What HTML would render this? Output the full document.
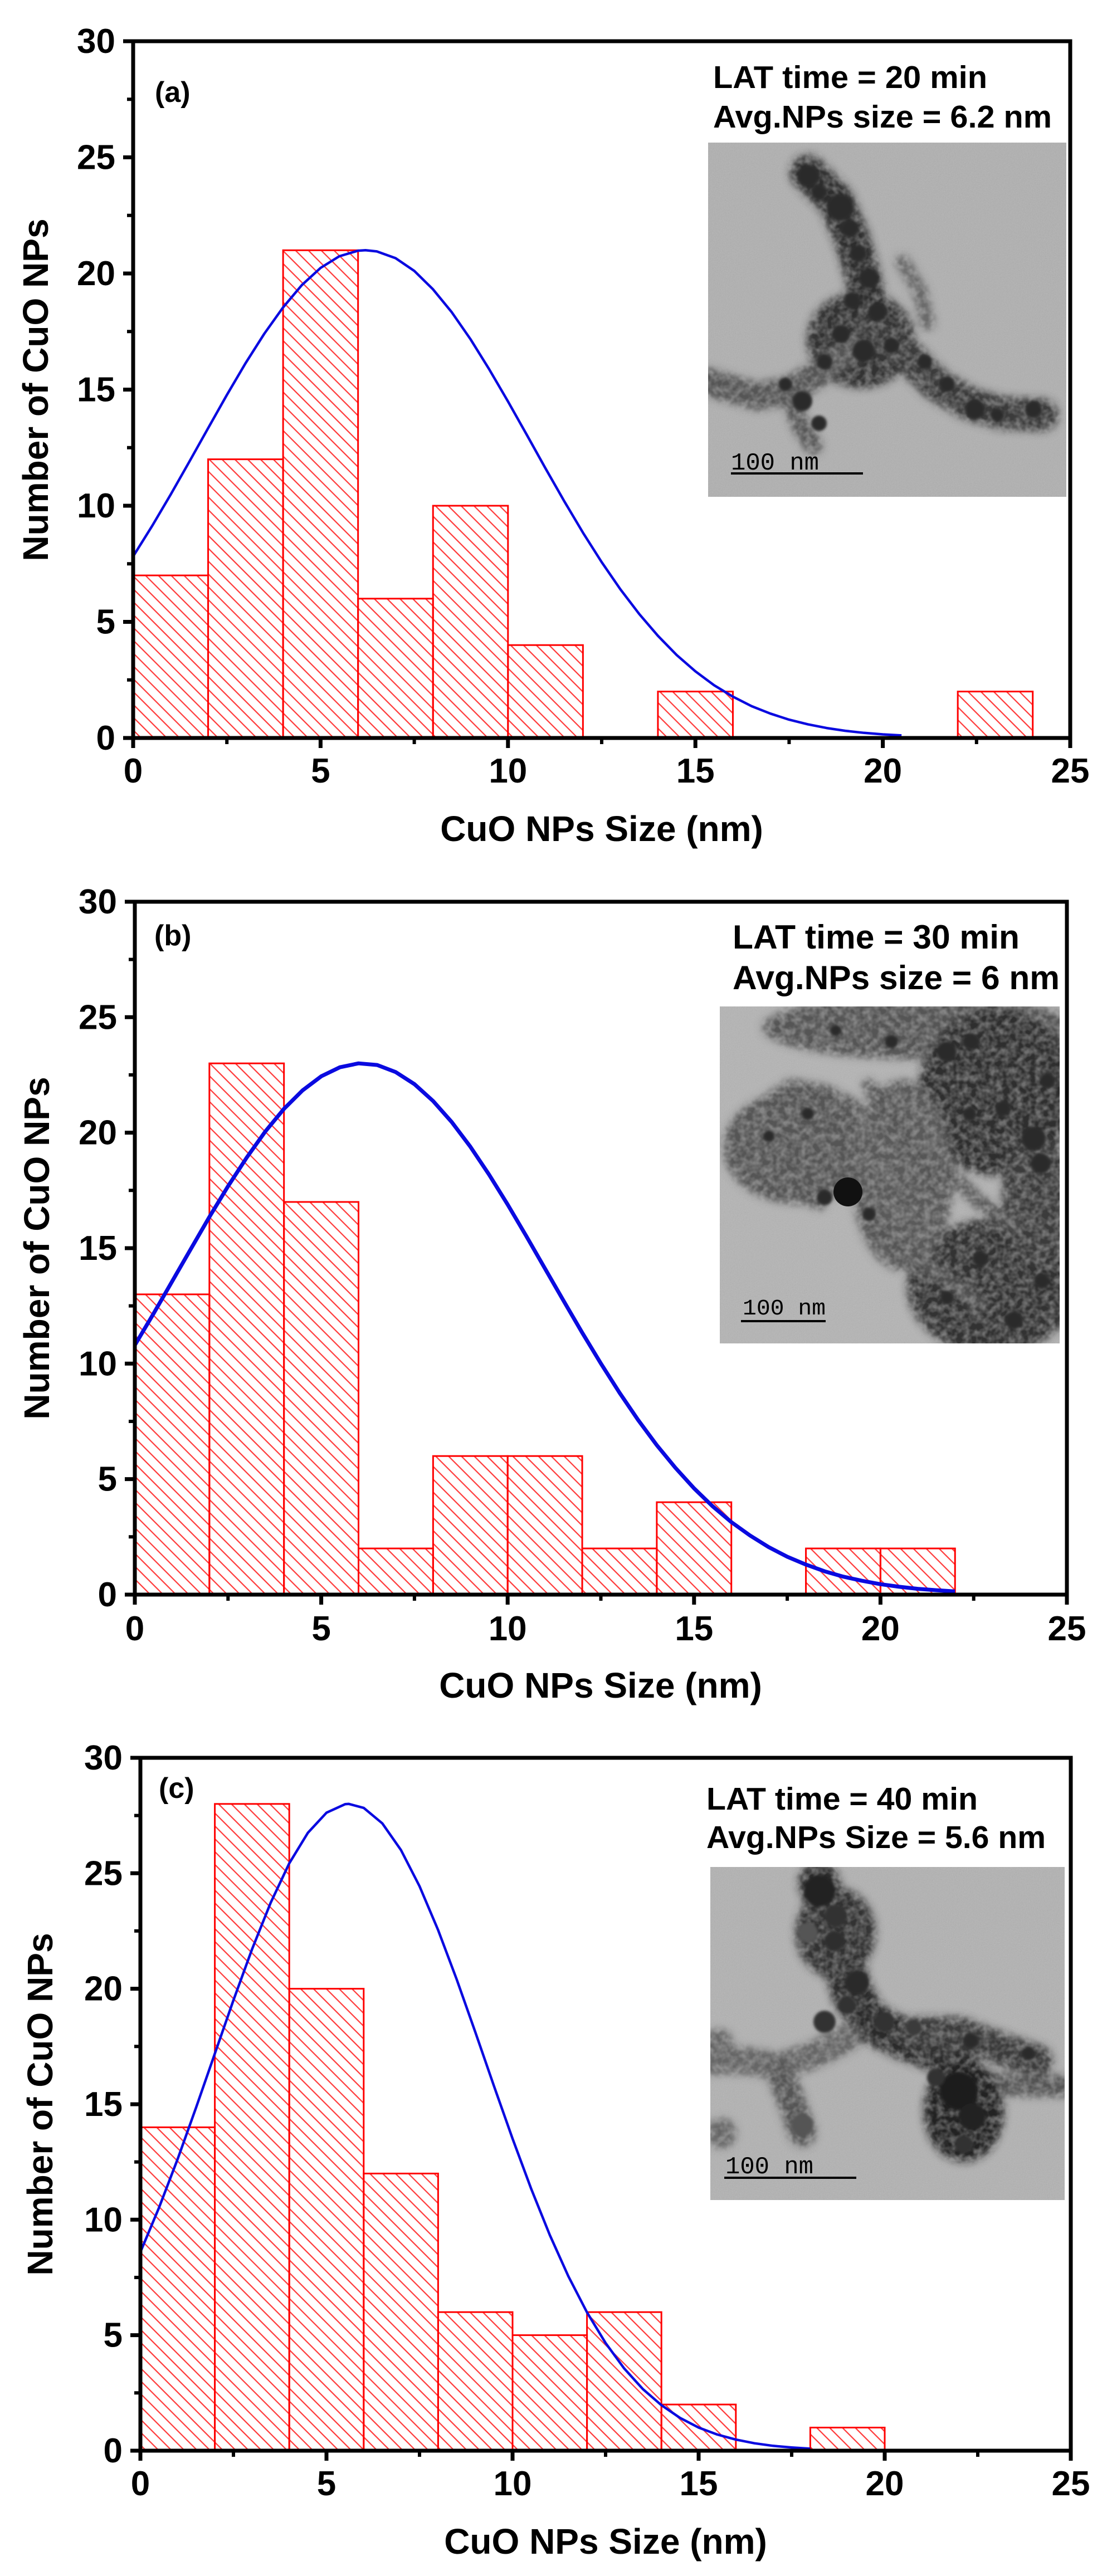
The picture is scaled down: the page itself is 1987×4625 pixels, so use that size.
<!DOCTYPE html>
<html>
<head>
<meta charset="utf-8">
<style>
html,body{margin:0;padding:0;background:#fff;}
svg{display:block;}
text{font-family:"Liberation Sans",Arial,sans-serif;}
.b{font-weight:bold;}
</style>
</head>
<body>
<svg width="1987" height="4625" viewBox="0 0 1987 4625" xmlns="http://www.w3.org/2000/svg">
<defs>
  <pattern id="h" patternUnits="userSpaceOnUse" width="16.3" height="16.3" patternTransform="rotate(45)">
    <line x1="-1" y1="8" x2="17.3" y2="8" stroke="#ff3a3a" stroke-width="2.2"/>
  </pattern>
  <filter id="bl2" x="-20%" y="-20%" width="140%" height="140%"><feGaussianBlur stdDeviation="2.5"/></filter>
  <filter id="bl8" x="-20%" y="-20%" width="140%" height="140%"><feGaussianBlur stdDeviation="9"/></filter>
  <filter id="tex" x="-10%" y="-10%" width="120%" height="120%">
    <feGaussianBlur in="SourceGraphic" stdDeviation="7" result="b"/>
    <feTurbulence type="fractalNoise" baseFrequency="0.085" numOctaves="2" seed="11" result="n"/>
    <feColorMatrix in="n" type="matrix" values="0 0 0 0 0  0 0 0 0 0  0 0 0 0 0  2.2 0 0 0 -0.5" result="m"/>
    <feComposite in="b" in2="m" operator="in"/>
  </filter>
  <filter id="nz" x="0" y="0" width="100%" height="100%">
    <feTurbulence type="fractalNoise" baseFrequency="0.55" numOctaves="2" seed="7"/>
    <feColorMatrix type="saturate" values="0"/>
  </filter>
  <clipPath id="ca"><rect x="1271" y="256" width="643" height="636"/></clipPath>
  <clipPath id="cb"><rect x="1292" y="1807" width="610" height="605"/></clipPath>
  <clipPath id="cc"><rect x="1275" y="3352" width="636" height="598"/></clipPath>

  <g id="aggA">
    <ellipse cx="1545" cy="610" rx="95" ry="85" fill="#333"/>
    <path d="M1450,310 L1500,360 L1530,430 L1550,500 L1560,560 L1540,620" fill="none" stroke="#2e2e2e" stroke-width="60" stroke-linecap="round"/>
    <path d="M1540,620 L1470,670 L1420,700 L1360,712 L1300,695 L1271,685" fill="none" stroke="#555" stroke-width="45" stroke-linecap="round"/>
    <path d="M1560,590 L1620,630 L1680,690 L1740,725 L1800,742 L1870,745" fill="none" stroke="#3a3a3a" stroke-width="55" stroke-linecap="round"/>
    <path d="M1620,470 L1650,520 L1665,580" fill="none" stroke="#666" stroke-width="22" stroke-linecap="round"/>
    <path d="M1420,720 L1440,770 L1460,800" fill="none" stroke="#555" stroke-width="28" stroke-linecap="round"/>
  </g>
  <g id="aggB">
    <ellipse cx="1650" cy="1845" rx="280" ry="55" fill="#555"/>
    <ellipse cx="1790" cy="1960" rx="140" ry="150" fill="#2e2e2e"/>
    <ellipse cx="1780" cy="2310" rx="150" ry="120" fill="#333"/>
    <ellipse cx="1430" cy="2060" rx="130" ry="100" fill="#555"/>
    <ellipse cx="1620" cy="2110" rx="90" ry="170" fill="#5a5a5a"/>
    <ellipse cx="1860" cy="2150" rx="60" ry="120" fill="#3a3a3a"/>
    <path d="M1360,1990 L1420,1950 L1480,1960 L1540,1990 M1330,2080 L1400,2120 L1470,2160 M1560,1950 L1600,2010 L1640,2060 L1680,2130 M1650,2260 L1700,2300 L1760,2340 M1560,2200 L1620,2240 L1660,2280 M1700,2100 L1760,2160 L1820,2200" fill="none" stroke="#555" stroke-width="22" stroke-linecap="round"/>
  </g>
  <g id="aggC">
    <path d="M1470,3380 L1490,3440 L1510,3510 L1530,3580 L1560,3630 L1620,3660 L1700,3690 L1740,3740 L1730,3840" fill="none" stroke="#2a2a2a" stroke-width="70" stroke-linecap="round"/>
    <path d="M1640,3650 L1720,3650 L1800,3680 L1860,3700" fill="none" stroke="#3a3a3a" stroke-width="55" stroke-linecap="round"/>
    <path d="M1780,3740 L1840,3745 L1911,3745" fill="none" stroke="#555" stroke-width="35" stroke-linecap="round"/>
    <path d="M1275,3700 L1340,3700 L1400,3710 L1460,3690 L1520,3660" fill="none" stroke="#666" stroke-width="45" stroke-linecap="round"/>
    <path d="M1400,3720 L1420,3770 L1440,3830" fill="none" stroke="#555" stroke-width="45" stroke-linecap="round"/>
    <ellipse cx="1730" cy="3790" rx="70" ry="90" fill="#222"/>
    <ellipse cx="1500" cy="3470" rx="70" ry="80" fill="#333"/>
    <circle cx="1290" cy="3670" r="25" fill="#666"/>
    <circle cx="1295" cy="3830" r="25" fill="#666"/>
  </g>
</defs>

<!-- ================= PANEL (a) ================= -->
<g stroke="#ff0000" stroke-width="3" fill="url(#h)">
  <rect x="239" y="1033.1" width="134.56" height="291.9"/>
  <rect x="373.56" y="824.6" width="134.56" height="500.4"/>
  <rect x="508.12" y="449.3" width="134.56" height="875.7"/>
  <rect x="642.68" y="1074.8" width="134.56" height="250.2"/>
  <rect x="777.24" y="908" width="134.56" height="417"/>
  <rect x="911.8" y="1158.2" width="134.56" height="166.8"/>
  <rect x="1180.92" y="1241.6" width="134.56" height="83.4"/>
  <rect x="1719.16" y="1241.6" width="134.56" height="83.4"/>
</g>
<polyline fill="none" stroke="#0a0ae0" stroke-width="4.5" stroke-linejoin="round" points="239,998.9 272.6,945.1 306.3,888 339.9,828.8 373.6,768.7 407.2,709.1 440.8,652 474.5,599 508.1,551.9 541.8,511.8 575.4,481 609,460.1 642.7,450.1 656.1,449.3 676.3,451.4 710,463.5 743.6,486.4 777.2,519.4 810.9,560.6 844.5,609 878.2,663.2 911.8,720.8 945.4,780.4 979.1,840.9 1012.7,899.7 1046.4,956.4 1080,1009.3 1113.6,1058.1 1147.3,1102.3 1180.9,1141.5 1214.6,1176.1 1248.2,1205.3 1281.8,1230.3 1315.5,1250.8 1349.1,1267.9 1382.8,1281.2 1416.4,1292.1 1450,1300.4 1483.7,1307.1 1517.3,1312.1 1551,1315.8 1584.6,1318.5 1618.2,1320.4"/>

<!-- inset (a) -->
<rect x="1271" y="256" width="643" height="636" fill="#b0b0b0"/>
<rect x="1271" y="256" width="643" height="636" filter="url(#nz)" opacity="0.2"/>
<g clip-path="url(#ca)">
  <use href="#aggA" filter="url(#bl8)" opacity="0.55"/>
  <use href="#aggA" filter="url(#tex)"/>
  <g filter="url(#bl2)" fill="#2a2a2a">
    <circle cx="1451" cy="316" r="20"/><circle cx="1470" cy="345" r="14"/>
    <circle cx="1508" cy="372" r="24"/><circle cx="1525" cy="410" r="16"/>
    <circle cx="1540" cy="455" r="15"/><circle cx="1560" cy="500" r="18"/>
    <circle cx="1530" cy="540" r="15"/><circle cx="1575" cy="560" r="17"/>
    <circle cx="1510" cy="600" r="16"/><circle cx="1550" cy="630" r="20"/>
    <circle cx="1480" cy="650" r="14"/><circle cx="1600" cy="620" r="14"/>
    <circle cx="1440" cy="720" r="18"/><circle cx="1470" cy="760" r="14"/>
    <circle cx="1410" cy="690" r="12"/><circle cx="1700" cy="690" r="14"/>
    <circle cx="1750" cy="735" r="18"/><circle cx="1855" cy="735" r="15"/>
    <circle cx="1660" cy="650" r="13"/><circle cx="1790" cy="745" r="12"/>
  </g>
</g>
<line x1="1312" y1="850" x2="1549" y2="850" stroke="#000" stroke-width="4"/>
<text x="1312" y="843" font-size="44" textLength="158" lengthAdjust="spacingAndGlyphs" fill="#000" style="font-family:'Liberation Mono',monospace">100 nm</text>

<text class="b" x="1280" y="158" font-size="57" textLength="492" lengthAdjust="spacingAndGlyphs">LAT time = 20 min</text>
<text class="b" x="1280" y="229" font-size="57" textLength="608" lengthAdjust="spacingAndGlyphs">Avg.NPs size = 6.2 nm</text>
<text class="b" x="278" y="183" font-size="52">(a)</text>

<rect x="239" y="74" width="1682" height="1251" fill="none" stroke="#000" stroke-width="7"/>
<path stroke="#000" stroke-width="7" fill="none" d="M239,1325V1343 M575.4,1325V1343 M911.8,1325V1343 M1248.2,1325V1343 M1584.6,1325V1343 M1921,1325V1343 M239,1325H221 M239,1116.5H221 M239,908H221 M239,699.5H221 M239,491H221 M239,282.5H221 M239,74H221"/>
<path stroke="#000" stroke-width="6" fill="none" d="M407.2,1325V1336 M743.6,1325V1336 M1080,1325V1336 M1416.4,1325V1336 M1752.8,1325V1336 M239,1220.75H228 M239,1012.25H228 M239,803.75H228 M239,595.25H228 M239,386.75H228 M239,178.25H228"/>
<g class="b" font-size="62" text-anchor="end">
  <text x="207" y="1346">0</text><text x="207" y="1137.5">5</text><text x="207" y="929">10</text>
  <text x="207" y="720.5">15</text><text x="207" y="512">20</text><text x="207" y="303.5">25</text><text x="207" y="95">30</text>
</g>
<g class="b" font-size="62" text-anchor="middle">
  <text x="239" y="1405">0</text><text x="575.4" y="1405">5</text><text x="911.8" y="1405">10</text>
  <text x="1248.2" y="1405">15</text><text x="1584.6" y="1405">20</text><text x="1921" y="1405">25</text>
</g>
<text class="b" x="1080" y="1510" font-size="64" text-anchor="middle">CuO NPs Size (nm)</text>
<text class="b" font-size="64" text-anchor="middle" transform="translate(86,700) rotate(-90)">Number of CuO NPs</text>

<!-- ================= PANEL (b) ================= -->
<g stroke="#ff0000" stroke-width="3" fill="url(#h)">
  <rect x="242" y="2323.9" width="133.84" height="539.1"/>
  <rect x="375.84" y="1909.2" width="133.84" height="953.8"/>
  <rect x="509.68" y="2158" width="133.84" height="705"/>
  <rect x="643.52" y="2780.1" width="133.84" height="82.9"/>
  <rect x="777.36" y="2614.2" width="133.84" height="248.8"/>
  <rect x="911.2" y="2614.2" width="133.84" height="248.8"/>
  <rect x="1045.04" y="2780.1" width="133.84" height="82.9"/>
  <rect x="1178.88" y="2697.1" width="133.84" height="165.9"/>
  <rect x="1446.56" y="2780.1" width="133.84" height="82.9"/>
  <rect x="1580.4" y="2780.1" width="133.84" height="82.9"/>
</g>
<polyline fill="none" stroke="#0a0ae0" stroke-width="7" stroke-linejoin="round" points="242,2415.1 275.5,2358.7 308.9,2300.7 342.4,2242.6 375.8,2185 409.3,2129.8 442.8,2078.4 476.2,2031.5 509.7,1990.9 543.1,1957.7 576.6,1932.4 610.1,1916.2 643.5,1909.2 677,1912.1 710.4,1924.9 743.9,1946.5 777.4,1976.8 810.8,2014.5 844.3,2058.9 877.7,2108.7 911.2,2162.6 944.7,2219.4 978.1,2277.4 1011.6,2335.5 1045,2392.7 1078.5,2447.9 1112,2500.5 1145.4,2549.5 1178.9,2594.7 1212.3,2635.3 1245.8,2672.2 1279.3,2704.6 1312.7,2732.8 1346.2,2756.8 1379.6,2777.6 1413.1,2795 1446.6,2809.1 1480,2821.1 1513.5,2830.7 1546.9,2838.1 1580.4,2844.3 1613.9,2848.9 1647.3,2852.6 1680.8,2855.1 1714.2,2857.2"/>

<!-- inset (b) -->
<rect x="1292" y="1807" width="610" height="605" fill="#b4b4b4"/>
<rect x="1292" y="1807" width="610" height="605" filter="url(#nz)" opacity="0.2"/>
<g clip-path="url(#cb)">
  <use href="#aggB" filter="url(#bl8)" opacity="0.5"/>
  <use href="#aggB" filter="url(#tex)"/>
  <g filter="url(#bl2)" fill="#2c2c2c">
    <circle cx="1699" cy="1888" r="18"/><circle cx="1743" cy="1870" r="15"/>
    <circle cx="1855" cy="2044" r="22"/><circle cx="1868" cy="2089" r="18"/>
    <circle cx="1800" cy="1990" r="14"/><circle cx="1740" cy="2000" r="12"/>
    <circle cx="1480" cy="2150" r="14"/><circle cx="1560" cy="2180" r="12"/>
    <circle cx="1820" cy="2370" r="16"/><circle cx="1870" cy="2300" r="14"/>
    <circle cx="1700" cy="2330" r="12"/><circle cx="1760" cy="2260" r="14"/>
    <circle cx="1380" cy="2040" r="10"/><circle cx="1450" cy="2000" r="11"/>
    <circle cx="1600" cy="1870" r="12"/><circle cx="1500" cy="1850" r="10"/>
    <circle cx="1880" cy="1940" r="14"/>
  </g>
  <circle cx="1522" cy="2140" r="26" fill="#111"/>
</g>
<line x1="1330" y1="2372" x2="1482" y2="2372" stroke="#000" stroke-width="4"/>
<text x="1333" y="2360" font-size="40" textLength="149" lengthAdjust="spacingAndGlyphs" fill="#000" style="font-family:'Liberation Mono',monospace">100 nm</text>

<text class="b" x="1315" y="1703" font-size="60" textLength="515" lengthAdjust="spacingAndGlyphs">LAT time = 30 min</text>
<text class="b" x="1315" y="1776" font-size="60" textLength="587" lengthAdjust="spacingAndGlyphs">Avg.NPs size = 6 nm</text>
<text class="b" x="277" y="1697" font-size="52">(b)</text>

<rect x="242" y="1619" width="1673" height="1244" fill="none" stroke="#000" stroke-width="7"/>
<path stroke="#000" stroke-width="7" fill="none" d="M242,2863V2881 M576.6,2863V2881 M911.2,2863V2881 M1245.8,2863V2881 M1580.4,2863V2881 M1915,2863V2881 M242,2863H224 M242,2655.65H224 M242,2448.3H224 M242,2240.95H224 M242,2033.6H224 M242,1826.25H224 M242,1619H224"/>
<path stroke="#000" stroke-width="6" fill="none" d="M409.3,2863V2874 M743.9,2863V2874 M1078.5,2863V2874 M1413.1,2863V2874 M1747.7,2863V2874 M242,2759.3H231 M242,2552H231 M242,2344.6H231 M242,2137.3H231 M242,1929.9H231 M242,1722.6H231"/>
<g class="b" font-size="62" text-anchor="end">
  <text x="210" y="2884">0</text><text x="210" y="2676.65">5</text><text x="210" y="2469.3">10</text>
  <text x="210" y="2262">15</text><text x="210" y="2054.6">20</text><text x="210" y="1847.25">25</text><text x="210" y="1640">30</text>
</g>
<g class="b" font-size="62" text-anchor="middle">
  <text x="242" y="2945">0</text><text x="576.6" y="2945">5</text><text x="911.2" y="2945">10</text>
  <text x="1245.8" y="2945">15</text><text x="1580.4" y="2945">20</text><text x="1915" y="2945">25</text>
</g>
<text class="b" x="1078" y="3048" font-size="64" text-anchor="middle">CuO NPs Size (nm)</text>
<text class="b" font-size="64" text-anchor="middle" transform="translate(88,2241) rotate(-90)">Number of CuO NPs</text>

<!-- ================= PANEL (c) ================= -->
<g stroke="#ff0000" stroke-width="3" fill="url(#h)">
  <rect x="252" y="3819.4" width="133.6" height="580.6"/>
  <rect x="385.6" y="3238.8" width="133.6" height="1161.2"/>
  <rect x="519.2" y="3570.6" width="133.6" height="829.4"/>
  <rect x="652.8" y="3902.4" width="133.6" height="497.6"/>
  <rect x="786.4" y="4151.2" width="133.6" height="248.8"/>
  <rect x="920" y="4192.6" width="133.6" height="207.4"/>
  <rect x="1053.6" y="4151.2" width="133.6" height="248.8"/>
  <rect x="1187.2" y="4317.1" width="133.6" height="82.9"/>
  <rect x="1454.4" y="4358.5" width="133.6" height="41.5"/>
</g>
<polyline fill="none" stroke="#0a0ae0" stroke-width="4.5" stroke-linejoin="round" points="252,4043.4 285.4,3963.7 318.8,3876.6 352.2,3783.3 385.6,3687.1 419,3591.3 452.4,3499.7 485.8,3416.3 519.2,3345.4 552.6,3290.7 586,3254.6 619.4,3239.3 626.1,3238.8 652.8,3245.9 686.2,3273.7 719.6,3321.4 753,3386.5 786.4,3465.3 819.8,3554 853.2,3648.6 886.6,3745.2 920,3839.7 953.4,3929.7 986.8,4012.7 1020.2,4086.9 1053.6,4151.6 1087,4206.7 1120.4,4252.4 1153.8,4289.3 1187.2,4318.3 1220.6,4341.1 1254,4358.5 1287.4,4371 1320.8,4380.1 1354.2,4386.7 1387.6,4391.3 1421,4394.2 1454.4,4396.4"/>

<!-- inset (c) -->
<rect x="1275" y="3352" width="636" height="598" fill="#b2b2b2"/>
<rect x="1275" y="3352" width="636" height="598" filter="url(#nz)" opacity="0.2"/>
<g clip-path="url(#cc)">
  <use href="#aggC" filter="url(#bl8)" opacity="0.55"/>
  <use href="#aggC" filter="url(#tex)"/>
  <g filter="url(#bl2)">
    <circle cx="1471" cy="3395" r="28" fill="#222"/>
    <circle cx="1500" cy="3440" r="20" fill="#333"/>
    <circle cx="1450" cy="3470" r="18" fill="#555"/>
    <circle cx="1498" cy="3485" r="18" fill="#2e2e2e"/>
    <circle cx="1538" cy="3560" r="22" fill="#2a2a2a"/>
    <circle cx="1520" cy="3600" r="16" fill="#333"/>
    <circle cx="1480" cy="3630" r="20" fill="#333"/>
    <circle cx="1587" cy="3630" r="18" fill="#333"/>
    <circle cx="1640" cy="3640" r="14" fill="#3a3a3a"/>
    <circle cx="1743" cy="3664" r="14" fill="#2a2a2a"/>
    <circle cx="1846" cy="3687" r="12" fill="#2a2a2a"/>
    <circle cx="1721" cy="3754" r="34" fill="#1a1a1a"/>
    <circle cx="1745" cy="3800" r="24" fill="#222"/>
    <circle cx="1730" cy="3850" r="16" fill="#333"/>
    <circle cx="1680" cy="3730" r="16" fill="#333"/>
    <circle cx="1440" cy="3815" r="20" fill="#555"/>
  </g>
</g>
<line x1="1300" y1="3910" x2="1537" y2="3910" stroke="#000" stroke-width="4"/>
<text x="1302" y="3902" font-size="44" textLength="158" lengthAdjust="spacingAndGlyphs" fill="#000" style="font-family:'Liberation Mono',monospace">100 nm</text>

<text class="b" x="1268" y="3249" font-size="57" textLength="487" lengthAdjust="spacingAndGlyphs">LAT time = 40 min</text>
<text class="b" x="1268" y="3318" font-size="57" textLength="609" lengthAdjust="spacingAndGlyphs">Avg.NPs Size = 5.6 nm</text>
<text class="b" x="285" y="3228" font-size="52">(c)</text>

<rect x="252" y="3156" width="1670" height="1244" fill="none" stroke="#000" stroke-width="7"/>
<path stroke="#000" stroke-width="7" fill="none" d="M252,4400V4418 M586,4400V4418 M920,4400V4418 M1254,4400V4418 M1588,4400V4418 M1922,4400V4418 M252,4400H234 M252,4192.65H234 M252,3985.3H234 M252,3777.95H234 M252,3570.6H234 M252,3363.25H234 M252,3156H234"/>
<path stroke="#000" stroke-width="6" fill="none" d="M419,4400V4411 M753,4400V4411 M1087,4400V4411 M1421,4400V4411 M1755,4400V4411 M252,4296.3H241 M252,4089H241 M252,3881.6H241 M252,3674.3H241 M252,3466.9H241 M252,3259.6H241"/>
<g class="b" font-size="62" text-anchor="end">
  <text x="220" y="4421">0</text><text x="220" y="4213.65">5</text><text x="220" y="4006.3">10</text>
  <text x="220" y="3799">15</text><text x="220" y="3591.6">20</text><text x="220" y="3384.25">25</text><text x="220" y="3177">30</text>
</g>
<g class="b" font-size="62" text-anchor="middle">
  <text x="252" y="4480">0</text><text x="586" y="4480">5</text><text x="920" y="4480">10</text>
  <text x="1254" y="4480">15</text><text x="1588" y="4480">20</text><text x="1922" y="4480">25</text>
</g>
<text class="b" x="1087" y="4585" font-size="64" text-anchor="middle">CuO NPs Size (nm)</text>
<text class="b" font-size="64" text-anchor="middle" transform="translate(94,3778) rotate(-90)">Number of CuO NPs</text>
</svg>
</body>
</html>
